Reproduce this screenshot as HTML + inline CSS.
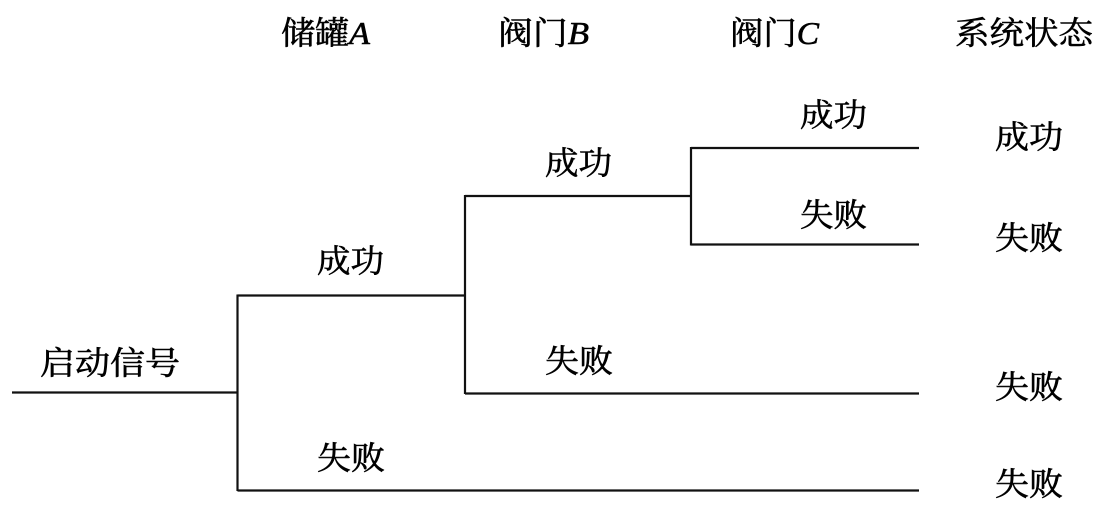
<!DOCTYPE html>
<html><head><meta charset="utf-8"><style>
html,body{margin:0;padding:0;background:#fff;}
svg{display:block;}
text{font-family:"Liberation Serif","Noto Serif CJK SC",serif;font-size:32px;fill:#000;stroke:#000;stroke-width:0.6;}
</style></head><body>
<svg width="1095" height="510" viewBox="0 0 1095 510" xmlns="http://www.w3.org/2000/svg">
<g stroke="#111" stroke-width="2.2" fill="none">
<line x1="12" y1="392.5" x2="238" y2="392.5"/>
<line x1="237.5" y1="294.5" x2="237.5" y2="491"/>
<line x1="237.5" y1="295.5" x2="465" y2="295.5"/>
<line x1="237.5" y1="490.5" x2="919" y2="490.5"/>
<line x1="465" y1="195" x2="465" y2="394"/>
<line x1="465" y1="196" x2="692" y2="196"/>
<line x1="465" y1="393.5" x2="919" y2="393.5"/>
<line x1="691" y1="147" x2="691" y2="245.5"/>
<line x1="691" y1="148" x2="919" y2="148"/>
<line x1="691" y1="244.5" x2="919" y2="244.5"/>
</g>
<text x="281" y="44" textLength="89" lengthAdjust="spacingAndGlyphs">储罐<tspan font-style="italic">A</tspan></text>
<text x="498" y="44" textLength="91" lengthAdjust="spacingAndGlyphs">阀门<tspan font-style="italic">B</tspan></text>
<text x="730" y="44" textLength="89" lengthAdjust="spacingAndGlyphs">阀门<tspan font-style="italic">C</tspan></text>
<text x="955" y="44" textLength="138" lengthAdjust="spacingAndGlyphs">系统状态</text>
<text x="800" y="126" textLength="67" lengthAdjust="spacingAndGlyphs">成功</text>
<text x="995" y="148" textLength="68" lengthAdjust="spacingAndGlyphs">成功</text>
<text x="545" y="174" textLength="67" lengthAdjust="spacingAndGlyphs">成功</text>
<text x="800" y="226" textLength="67" lengthAdjust="spacingAndGlyphs">失败</text>
<text x="995" y="249" textLength="68" lengthAdjust="spacingAndGlyphs">失败</text>
<text x="317" y="272" textLength="67" lengthAdjust="spacingAndGlyphs">成功</text>
<text x="40" y="374" textLength="140" lengthAdjust="spacingAndGlyphs">启动信号</text>
<text x="545" y="372" textLength="68" lengthAdjust="spacingAndGlyphs">失败</text>
<text x="995" y="398" textLength="68" lengthAdjust="spacingAndGlyphs">失败</text>
<text x="317" y="469" textLength="68" lengthAdjust="spacingAndGlyphs">失败</text>
<text x="995" y="495" textLength="68" lengthAdjust="spacingAndGlyphs">失败</text>
</svg>
</body></html>
